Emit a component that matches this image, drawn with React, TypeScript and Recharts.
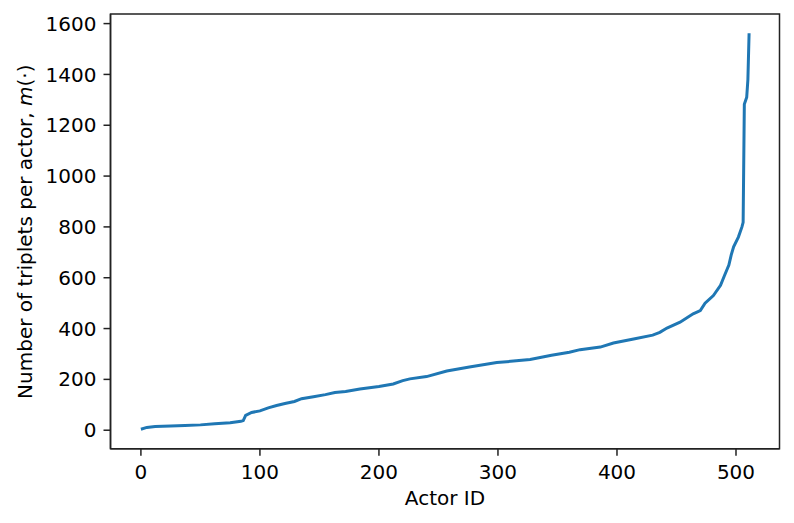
import { LineChart, Line, XAxis, YAxis, ReferenceArea } from 'recharts'

// Actors sorted by how many triplets they appear in
const actorIds = [
  0, 5, 12, 25, 37, 50, 62, 75, 84, 86, 88, 93, 100, 107, 114, 121, 129, 135, 145, 155,
  163, 172, 184, 200, 212, 220, 226, 240, 257, 276, 299, 313, 327, 345, 360, 369, 386, 397,
  414, 430, 436, 442, 453, 464, 470, 474, 481, 487, 490, 494, 496, 498, 502, 505, 506, 507,
  509, 510, 511,
]
const tripletCounts = [
  4, 11, 15, 17, 19, 21, 25, 29, 35, 38, 58, 70, 76, 88, 97, 105, 113, 124, 132, 140,
  148, 152, 162, 172, 182, 195, 202, 211, 233, 249, 266, 272, 278, 295, 307, 317, 327, 343,
  359, 374, 385, 402, 425, 458, 471, 500, 530, 570, 605, 650, 690, 722, 760, 800, 818, 1283,
  1310, 1380, 1562,
]
const xTicks = [0, 100, 200, 300, 400, 500]
const yTicks = [0, 200, 400, 600, 800, 1000, 1200, 1400, 1600]

const X_DOMAIN: [number, number] = [-25.55, 536.55]
const Y_DOMAIN: [number, number] = [-72.75, 1637.75]

const data = actorIds.map((id, i) => ({ id, m: tripletCounts[i] }))

const FONT = '"DejaVu Sans", sans-serif'
const tickStyle = { fontSize: 20, fill: '#000', fontFamily: FONT }

function YLabel() {
  return (
    <text
      x={25}
      y={231.7}
      transform="rotate(-90 25 231.7)"
      textAnchor="middle"
      dominantBaseline="central"
      style={{ fontSize: 20, fontFamily: FONT, fill: '#000' }}
    >
      Number of triplets per actor, <tspan fontStyle="italic">m</tspan>(·)
    </text>
  )
}

export default function App() {
  return (
    <div style={{ position: 'absolute', left: 0, top: 0, background: '#fff' }}>
      <LineChart width={794} height={523} data={data}
        margin={{ top: 14, right: 14.5, bottom: 0, left: 0 }}>
        <XAxis
          dataKey="id"
          type="number"
          domain={X_DOMAIN}
          ticks={xTicks}
          height={74.3}
          tick={tickStyle}
          tickSize={7}
          tickMargin={9}
          axisLine={{ stroke: '#222', strokeWidth: 1.5 }}
          tickLine={{ stroke: '#222', strokeWidth: 1.5 }}
          label={{ value: 'Actor ID', position: 'insideBottom', offset: 18,
            style: { fontSize: 20, fill: '#000', fontFamily: FONT } }}
        />
        <YAxis
          type="number"
          domain={Y_DOMAIN}
          ticks={yTicks}
          width={110.5}
          tick={tickStyle}
          tickSize={7}
          tickMargin={7}
          axisLine={{ stroke: '#222', strokeWidth: 1.5 }}
          tickLine={{ stroke: '#222', strokeWidth: 1.5 }}
          label={<YLabel />}
        />
        <ReferenceArea
          x1={X_DOMAIN[0]} x2={X_DOMAIN[1]} y1={Y_DOMAIN[0]} y2={Y_DOMAIN[1]}
          fill="none" stroke="#222" strokeWidth={1.5} fillOpacity={0}
        />
        <Line
          dataKey="m"
          type="linear"
          stroke="#1f77b4"
          strokeWidth={3}
          dot={false}
          isAnimationActive={false}
        />
      </LineChart>
    </div>
  )
}
